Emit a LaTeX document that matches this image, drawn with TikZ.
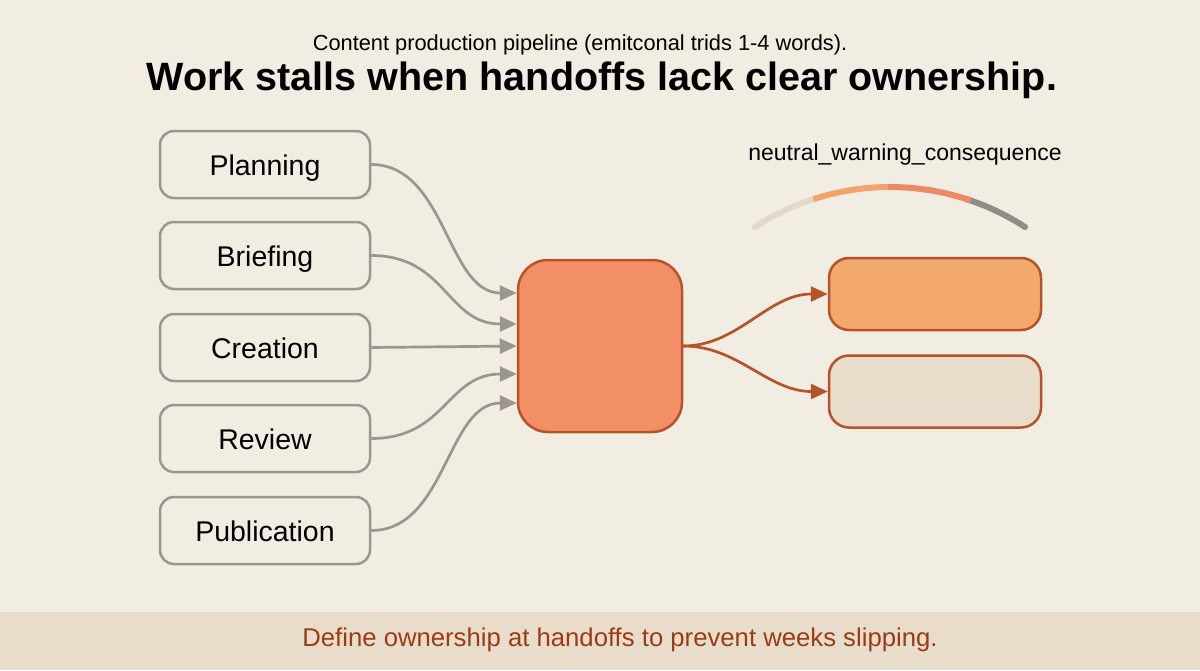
\documentclass[tikz,border=0pt]{standalone}
\usepackage{fontspec}
\setmainfont{Liberation Sans}
\usetikzlibrary{arrows.meta}
\definecolor{bg}{HTML}{F2EDE3}
\definecolor{band}{HTML}{E8DDCA}
\definecolor{graybd}{HTML}{9A9690}
\definecolor{rust}{HTML}{B5532A}
\definecolor{salmon}{HTML}{F28F66}
\definecolor{peach}{HTML}{F3A96E}
\definecolor{beige}{HTML}{E8DCCA}
\definecolor{foottxt}{HTML}{9C3B14}
\definecolor{gbeige}{HTML}{E2D8CA}
\definecolor{gorange}{HTML}{F2A46C}
\definecolor{gsalmon}{HTML}{EE8966}
\definecolor{ggray}{HTML}{8F8D88}
\tikzset{
  stagebox/.style={draw=graybd, line width=2.5pt, rounded corners=14pt, fill=bg,
    minimum width=210pt, minimum height=67pt, inner sep=0pt, text height=23pt, text depth=2pt,
    font=\fontsize{28.5}{32}\selectfont},
  feed/.style={draw=graybd, line width=2.7pt, -{Triangle[length=17pt,width=15pt]}},
  outarrow/.style={draw=rust, line width=2.7pt, -{Triangle[length=17pt,width=15pt]}},
  gauge/.style={line width=6pt, line cap=round},
}
\begin{document}
\begin{tikzpicture}[x=1pt,y=-1pt]
\useasboundingbox (0,0) rectangle (1200,670);
\fill[bg] (0,0) rectangle (1200,670);
\fill[band] (0,612) rectangle (1200,670);
\node[font=\fontsize{21.8}{26}\selectfont] (sub) at (580,45) {Content production pipeline (emitconal trids 1-4 words).};
\node[font=\bfseries\fontsize{39.5}{44}\selectfont] (title) at (602,80) {Work stalls when handoffs lack clear ownership.};
\node[stagebox] (p1) at (265,164.5) {Planning};
\node[stagebox] (p2) at (265,255.5) {Briefing};
\node[stagebox] (p3) at (265,347.5) {Creation};
\node[stagebox] (p4) at (265,438.5) {Review};
\node[stagebox] (p5) at (265,530.5) {Publication};
\node[draw=rust, line width=2.5pt, fill=salmon, rounded corners=30pt, minimum width=164pt, minimum height=172pt] (hub) at (600,346) {};
\node[draw=rust, line width=2.5pt, fill=peach, rounded corners=20pt, minimum width=212pt, minimum height=72pt] (r1) at (935,294) {};
\node[draw=rust, line width=2.5pt, fill=beige, rounded corners=20pt, minimum width=212pt, minimum height=72pt] (r2) at (935,391.5) {};
\coordinate (h1) at ([yshift=53pt]hub.west);
\coordinate (h2) at ([yshift=22pt]hub.west);
\coordinate (h3) at (hub.west);
\coordinate (h4) at ([yshift=-28pt]hub.west);
\coordinate (h5) at ([yshift=-57pt]hub.west);
\draw[feed] (p1.east) .. controls +(75,0) and +(-70,0) .. (h1);
\draw[feed] (p2.east) .. controls +(75,0) and +(-70,0) .. (h2);
\draw[feed] (p3.east) -- (h3);
\draw[feed] (p4.east) .. controls +(75,0) and +(-70,0) .. (h4);
\draw[feed] (p5.east) .. controls +(75,0) and +(-70,0) .. (h5);
\draw[outarrow] (hub.east) .. controls +(55,0) and +(-60,0) .. (r1.west);
\draw[outarrow] (hub.east) .. controls +(55,0) and +(-60,0) .. (r2.west);
\node[font=\fontsize{23}{27}\selectfont] (glabel) at (905,155) {neutral\_warning\_consequence};
\draw[gauge, gbeige] plot[domain=-123:-107, samples=20] ({890+248*cos(\x)},{435+248*sin(\x)});
\draw[gauge, ggray] plot[domain=-72:-57, samples=20] ({890+248*cos(\x)},{435+248*sin(\x)});
\draw[line width=6pt, gorange] plot[domain=-108:-90.5, samples=20] ({890+248*cos(\x)},{435+248*sin(\x)});
\draw[line width=6pt, gsalmon] plot[domain=-90.5:-71, samples=20] ({890+248*cos(\x)},{435+248*sin(\x)});
\node[font=\fontsize{25.7}{30}\selectfont, text=foottxt] (foot) at (620,640) {Define ownership at handoffs to prevent weeks slipping.};
\end{tikzpicture}
\end{document}
